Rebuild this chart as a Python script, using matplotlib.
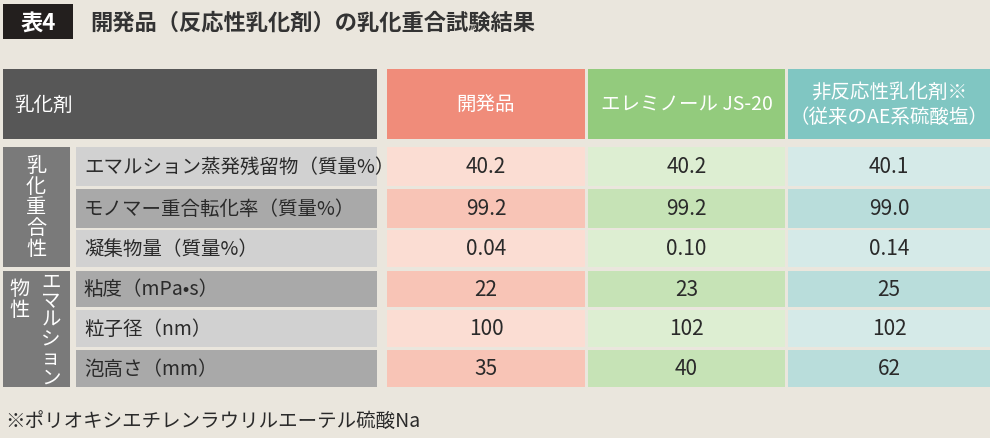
import matplotlib
matplotlib.use("Agg")
import matplotlib.pyplot as plt
from matplotlib.patches import Rectangle

plt.rcParams['font.family'] = ['Noto Sans CJK JP', 'DejaVu Sans']

title_tag = "表4"
title = "開発品（反応性乳化剤）の乳化重合試験結果"
header_label = "乳化剤"
columns = ["開発品", "エレミノール JS-20", "非反応性乳化剤※\n（従来のAE系硫酸塩）"]
row_labels = ["エマルション蒸発残留物（質量%）", "モノマー重合転化率（質量%）", "凝集物量（質量%）",
              "粘度（mPa•s）", "粒子径（nm）", "泡高さ（mm）"]
values = [["40.2", "40.2", "40.1"],
          ["99.2", "99.2", "99.0"],
          ["0.04", "0.10", "0.14"],
          ["22", "23", "25"],
          ["100", "102", "102"],
          ["35", "40", "62"]]
footnote = "※ポリオキシエチレンラウリルエーテル硫酸Na"

fig = plt.figure(figsize=(9.9, 4.39), dpi=100)
fig.patch.set_facecolor('#EAE6DD')
ax = fig.add_axes([0, 0, 1, 1])
ax.set_xlim(0, 990); ax.set_ylim(439, 0); ax.axis('off')

def rect(x0, y0, x1, y1, c):
    ax.add_patch(Rectangle((x0, y0), x1 - x0, y1 - y0, facecolor=c, edgecolor='none'))

rect(3, 5, 73, 40, '#231F1E')
ax.text(38, 23, title_tag, color='white', fontsize=16, fontweight='bold', ha='center', va='center')
ax.text(90, 23, title, color='#333333', fontsize=16, fontweight='bold', ha='left', va='center')

rect(3, 70, 377, 140, '#575757')
ax.text(14, 105, header_label, color='white', fontsize=14, ha='left', va='center')

col_x = [(387, 585), (588, 785), (788, 990)]
head_c = ['#F08C7A', '#93CB7D', '#80C6C2']
light_c = ['#FBDDD3', '#DDEED2', '#D5EAE8']
dark_c = ['#F8C4B6', '#C6E3B6', '#B9DDDB']
for (x0, x1), c, t in zip(col_x, head_c, columns):
    rect(x0, 70, x1, 140, c)
    ax.text((x0 + x1) / 2, 105, t, color='white', fontsize=14, ha='center', va='center', linespacing=1.25)

rows = [(148, 187), (190, 229), (231, 268), (272, 308), (311, 348), (351, 388)]
for i, (y0, y1) in enumerate(rows):
    rect(76, y0, 377, y1, '#A9A9A9' if i % 2 else '#D1D1D1')
    ax.text(84, (y0 + y1) / 2, row_labels[i], color='#2A2A2A', fontsize=14, ha='left', va='center')
    for j, (x0, x1) in enumerate(col_x):
        rect(x0, y0, x1, y1, dark_c[j] if i % 2 else light_c[j])
        ax.text((x0 + x1) / 2, (y0 + y1) / 2, values[i][j], color='#2A2A2A', fontsize=15, ha='center', va='center')

rect(3, 148, 70, 268, '#7A7A7A')
rect(3, 272, 70, 388, '#7A7A7A')
ax.text(36, 208, "\n".join("乳化重合性"), color='white', fontsize=14.5, ha='center', va='center', linespacing=0.98)
ax.text(19, 300, "物\n性", color='white', fontsize=14.5, ha='center', va='center', linespacing=0.98)
ax.text(51, 330, "\n".join("エマルション"), color='white', fontsize=14, ha='center', va='center', linespacing=0.88)

ax.text(5, 421, footnote, color='#2A2A2A', fontsize=14, ha='left', va='center')

fig.savefig('out.png', dpi=100, facecolor=fig.get_facecolor())
